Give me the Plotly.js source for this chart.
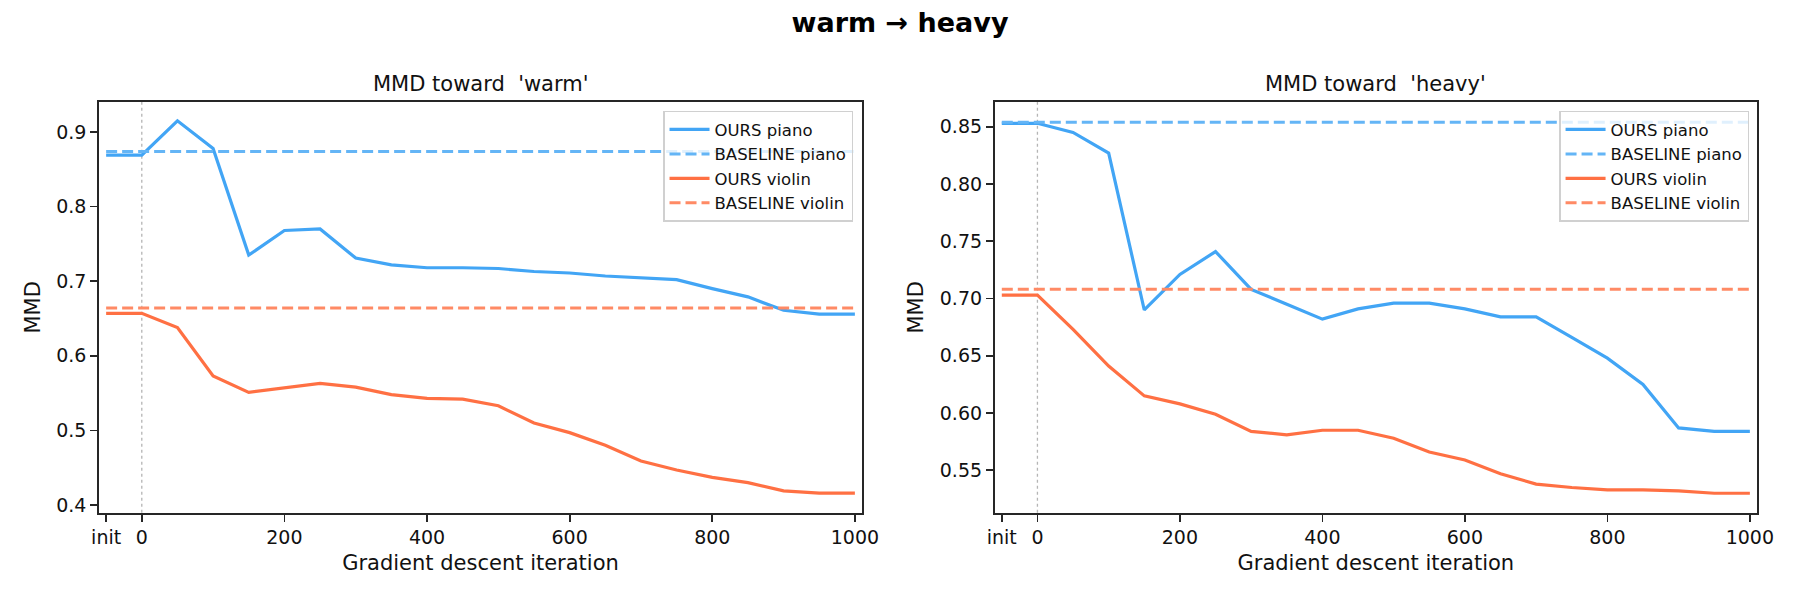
<!DOCTYPE html>
<html>
<head>
<meta charset="utf-8">
<script src="https://cdn.plot.ly/plotly-3.0.1.min.js"></script>
<style>html,body{margin:0;padding:0;background:#fff;}#chart{width:1800px;height:600px;}</style>
</head>
<body>
<div id="chart"></div>
<script>
// ---- data ----
const iterations = [-50, 0, 50, 100, 150, 200, 250, 300, 350, 400, 450, 500, 550, 600, 650, 700, 750, 800, 850, 900, 950, 1000];
const tickVals = [-50, 0, 200, 400, 600, 800, 1000];
const tickText = ['init', '0', '200', '400', '600', '800', '1000'];
const startIter = 0;

const warmOursPiano = [0.869, 0.869, 0.915, 0.878, 0.735, 0.768, 0.770, 0.731, 0.722, 0.718, 0.718, 0.717, 0.713, 0.711, 0.707, 0.705, 0.702, 0.690, 0.679, 0.661, 0.656, 0.656];
const warmOursViolin = [0.657, 0.657, 0.638, 0.573, 0.551, 0.557, 0.563, 0.558, 0.548, 0.543, 0.542, 0.533, 0.510, 0.497, 0.480, 0.459, 0.447, 0.437, 0.430, 0.419, 0.416, 0.416];
const warmBaselinePiano = 0.874;
const warmBaselineViolin = 0.664;

const heavyOursPiano = [0.853, 0.853, 0.845, 0.827, 0.690, 0.721, 0.741, 0.708, 0.695, 0.682, 0.691, 0.696, 0.696, 0.691, 0.684, 0.684, 0.666, 0.648, 0.625, 0.587, 0.584, 0.584];
const heavyOursViolin = [0.703, 0.703, 0.673, 0.641, 0.615, 0.608, 0.599, 0.584, 0.581, 0.585, 0.585, 0.578, 0.566, 0.559, 0.547, 0.538, 0.535, 0.533, 0.533, 0.532, 0.530, 0.530];
const heavyBaselinePiano = 0.854;
const heavyBaselineViolin = 0.708;

const seriesNames = ['OURS piano', 'BASELINE piano', 'OURS violin', 'BASELINE violin'];

// ---- styles ----
const C_PIANO = '#42A5F5', C_PIANO_B = '#64B5F6', C_VIOLIN = '#FF7043', C_VIOLIN_B = '#FF8A65';
const FONT = 'DejaVu Sans, Verdana, sans-serif';
const DASH = '11px,5px';

const xEnds = [iterations[0], iterations[iterations.length - 1]];

function panel(ours1, base1, ours2, base2, xa, ya, leg) {
  return [
    {x: iterations, y: ours1, name: seriesNames[0], type: 'scatter', mode: 'lines', line: {color: C_PIANO, width: 3.2}, xaxis: xa, yaxis: ya, legend: leg},
    {x: xEnds, y: [base1, base1], name: seriesNames[1], type: 'scatter', mode: 'lines', line: {color: C_PIANO_B, width: 3, dash: DASH}, xaxis: xa, yaxis: ya, legend: leg},
    {x: iterations, y: ours2, name: seriesNames[2], type: 'scatter', mode: 'lines', line: {color: C_VIOLIN, width: 3.2}, xaxis: xa, yaxis: ya, legend: leg},
    {x: xEnds, y: [base2, base2], name: seriesNames[3], type: 'scatter', mode: 'lines', line: {color: C_VIOLIN_B, width: 3, dash: DASH}, xaxis: xa, yaxis: ya, legend: leg}
  ];
}

const data = [].concat(
  panel(warmOursPiano, warmBaselinePiano, warmOursViolin, warmBaselineViolin, 'x', 'y', 'legend'),
  panel(heavyOursPiano, heavyBaselinePiano, heavyOursViolin, heavyBaselineViolin, 'x2', 'y2', 'legend2')
);

function xaxis(domain, anchor) {
  return {
    domain: domain, anchor: anchor, range: [-60, 1010],
    tickmode: 'array', tickvals: tickVals, ticktext: tickText,
    ticks: 'outside', ticklen: 7, tickwidth: 1.7, tickcolor: '#262626',
    showline: true, linecolor: '#262626', linewidth: 1.8, mirror: true,
    showgrid: false, zeroline: false,
    tickfont: {family: FONT, size: 19, color: '#111'},
    title: {text: 'Gradient descent iteration', font: {family: FONT, size: 21, color: '#111'}, standoff: 8}
  };
}
function yaxis(domain, anchor, range, dtick, fmt) {
  return {
    domain: domain, anchor: anchor, range: range,
    dtick: dtick, tick0: 0, tickformat: fmt,
    ticks: 'outside', ticklen: 7, tickwidth: 1.7, tickcolor: '#262626',
    showline: true, linecolor: '#262626', linewidth: 1.8, mirror: true,
    showgrid: false, zeroline: false,
    tickfont: {family: FONT, size: 19, color: '#111'},
    title: {text: 'MMD', font: {family: FONT, size: 21, color: '#111'}, standoff: 10}
  };
}

const yDom = [0.1455, 0.83];
const legendStyle = {
  yanchor: 'top', xanchor: 'right', y: 0.8155,
  bgcolor: 'rgba(255,255,255,0.8)', bordercolor: '#d0d0d0', borderwidth: 1.5,
  itemwidth: 40,
  font: {family: FONT, size: 16.5, color: '#111'}
};

const layout = {
  width: 1800, height: 600,
  margin: {l: 0, r: 0, t: 0, b: 0},
  paper_bgcolor: '#fff', plot_bgcolor: '#fff',
  title: {text: '<b>warm → heavy</b>', x: 0.5, xanchor: 'center', y: 1 - 23 / 600, yanchor: 'middle', font: {family: FONT, size: 27, color: '#000'}},
  xaxis: xaxis([0.055, 0.4789], 'y'),
  yaxis: yaxis(yDom, 'x', [0.3897, 0.9402], 0.1, '.1f'),
  xaxis2: xaxis([0.5526, 0.9761], 'y2'),
  yaxis2: yaxis(yDom, 'x2', [0.513, 0.8716], 0.05, '.2f'),
  legend: Object.assign({x: 0.4739}, legendStyle),
  legend2: Object.assign({x: 0.9717}, legendStyle),
  showlegend: true,
  annotations: [
    {text: "MMD toward \u00a0'warm'", xref: 'x domain', yref: 'paper', x: 0.5, y: 1 - 84 / 600, xanchor: 'center', yanchor: 'middle', showarrow: false, font: {family: FONT, size: 21, color: '#111'}},
    {text: "MMD toward \u00a0'heavy'", xref: 'x2 domain', yref: 'paper', x: 0.5, y: 1 - 84 / 600, xanchor: 'center', yanchor: 'middle', showarrow: false, font: {family: FONT, size: 21, color: '#111'}}
  ],
  shapes: [
    {type: 'line', xref: 'x', yref: 'y domain', x0: startIter, x1: startIter, y0: 0, y1: 1, line: {color: '#b5b5b5', width: 1.3, dash: 'dot'}, layer: 'below'},
    {type: 'line', xref: 'x2', yref: 'y2 domain', x0: startIter, x1: startIter, y0: 0, y1: 1, line: {color: '#b5b5b5', width: 1.3, dash: 'dot'}, layer: 'below'}
  ]
};

Plotly.newPlot('chart', data, layout, {displayModeBar: false, staticPlot: true});
</script>
</body>
</html>
